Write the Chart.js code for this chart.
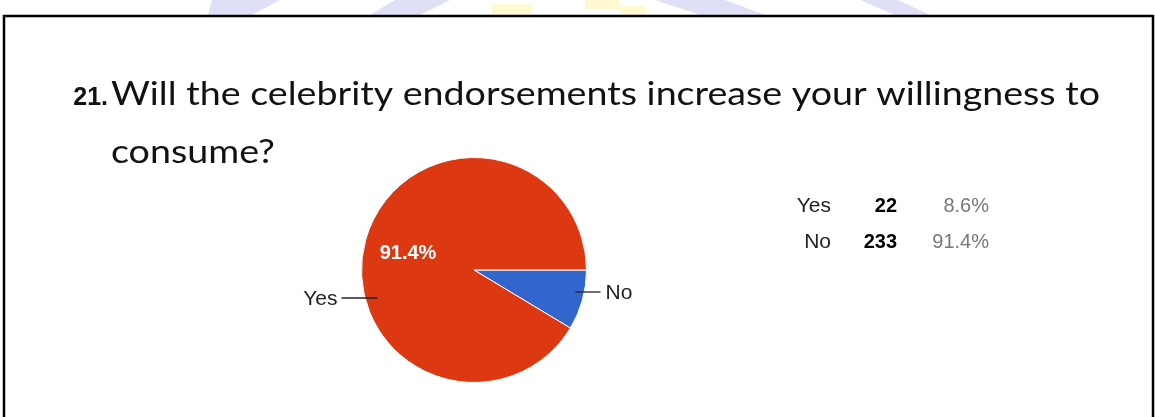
<!DOCTYPE html>
<html>
<head>
<meta charset="utf-8">
<title>Q21 celebrity endorsements</title>
<script src="https://cdn.jsdelivr.net/npm/chart.js@4.4.1/dist/chart.umd.min.js"></script>
<style>
  html, body { margin: 0; padding: 0; background: #fff; }
  #wrap { position: relative; width: 1155px; height: 417px; overflow: hidden; }
</style>
</head>
<body>
<div id="wrap"><canvas id="surveyChart" width="1155" height="417"></canvas></div>
<script>
// question text
const questionNo = '21.';
const questionLines = ['Will the celebrity endorsements increase your willingness to', 'consume?'];

// pie slices (label printed beside each slice)
const sliceLabels = ['No', 'Yes'];
const sliceValues = [22, 233];
const sliceColors = ['#3366cc', '#dc3912'];

// summary table on the right
const tableAnswers = ['Yes', 'No'];
const tableCounts = [22, 233];

const total = tableCounts.reduce((a, b) => a + b, 0);
const pct = v => (v / total * 100).toFixed(1) + '%';

const sansFont = '"Liberation Sans", Arial, sans-serif';

const pagePlugin = {
    id: 'page',
    beforeDraw(chart) {
        const c = chart.ctx;
        c.save();
        // faint logo showing above the frame
        c.beginPath();
        c.rect(0, 0, 1155, 15);
        c.clip();
        c.fillStyle = 'rgba(215,215,242,0.8)';
        [[212, 280, 252, 208], [395, 450, 420, 370], [655, 725, 765, 700], [860, 898, 930, 895]].forEach(p => {
            c.beginPath();
            c.moveTo(p[0], 0); c.lineTo(p[1], 0); c.lineTo(p[2], 15); c.lineTo(p[3], 15);
            c.closePath(); c.fill();
        });
        c.fillStyle = 'rgba(255,246,190,0.7)';
        c.fillRect(492, 4, 40, 11);
        c.fillRect(585, 0, 35, 9);
        c.fillRect(620, 6, 25, 9);
        c.restore();

        // frame
        c.save();
        c.strokeStyle = '#000';
        c.lineWidth = 2.5;
        c.beginPath();
        c.moveTo(4, 417); c.lineTo(4, 16); c.lineTo(1153, 16); c.lineTo(1153, 417);
        c.stroke();
        c.restore();
    },
    afterDatasetsDraw(chart) {
        const c = chart.ctx;
        const arcs = chart.getDatasetMeta(0).data;
        const cx = arcs[0].x, cy = arcs[0].y, r = arcs[0].outerRadius;
        c.save();
        c.strokeStyle = '#222';
        c.lineWidth = 1.3;
        c.font = '21px ' + sansFont;
        c.fillStyle = '#222';
        c.textBaseline = 'alphabetic';

        // leader line + label for the big slice (left)
        c.beginPath();
        c.moveTo(cx - r - 20, cy + 28); c.lineTo(cx - r + 16, cy + 28);
        c.stroke();
        c.textAlign = 'right';
        c.fillText(sliceLabels[1], cx - r - 24, cy + 35);

        // leader line + label for the small slice (right)
        c.beginPath();
        c.moveTo(cx + r - 11, cy + 22); c.lineTo(cx + r + 14, cy + 22);
        c.stroke();
        c.textAlign = 'left';
        c.fillText(sliceLabels[0], cx + r + 19, cy + 29);

        // percentage inside the big slice
        const sum = sliceValues.reduce((a, b) => a + b, 0);
        c.font = 'bold 20px ' + sansFont;
        c.fillStyle = '#fff';
        c.textAlign = 'center';
        c.fillText((sliceValues[1] / sum * 100).toFixed(1) + '%', cx - 66, cy - 11);
        c.restore();
    },
    afterDraw(chart) {
        const c = chart.ctx;
        c.save();
        c.textBaseline = 'alphabetic';
        // question number
        c.fillStyle = '#111';
        c.font = 'bold 25px ' + sansFont;
        c.textAlign = 'right';
        c.fillText(questionNo, 108, 105);

        // question text, stretched to the measured line width
        c.font = '33px Lato';
        const w = c.measureText(questionLines[0]).width;
        const sx = 989 / w;
        c.textAlign = 'left';
        c.fillStyle = '#111';
        c.save();
        c.translate(111, 0);
        c.scale(sx, 1);
        c.fillText(questionLines[0], 0, 105);
        c.fillText(questionLines[1], 0, 163);
        c.restore();

        // summary table
        tableAnswers.forEach((a, i) => {
            const y = 212 + i * 36;
            c.font = '21px ' + sansFont;
            c.fillStyle = '#222';
            c.textAlign = 'right';
            c.fillText(a, 831, y);
            c.font = 'bold 20px ' + sansFont;
            c.fillStyle = '#000';
            c.fillText(String(tableCounts[i]), 897, y);
            c.font = '20px ' + sansFont;
            c.fillStyle = '#777';
            c.fillText(pct(tableCounts[i]), 989, y);
        });
        c.restore();
    }
};

new Chart(document.getElementById('surveyChart'), {
    type: 'pie',
    data: {
        labels: sliceLabels,
        datasets: [{
            data: sliceValues,
            backgroundColor: sliceColors,
            borderColor: '#fff',
            borderWidth: 1
        }]
    },
    options: {
        responsive: false,
        animation: false,
        rotation: 90,
        layout: { padding: { top: 157, bottom: 34, left: 361, right: 568 } },
        plugins: {
            legend: { display: false },
            tooltip: { enabled: false }
        }
    },
    plugins: [pagePlugin]
});
</script>
</body>
</html>
